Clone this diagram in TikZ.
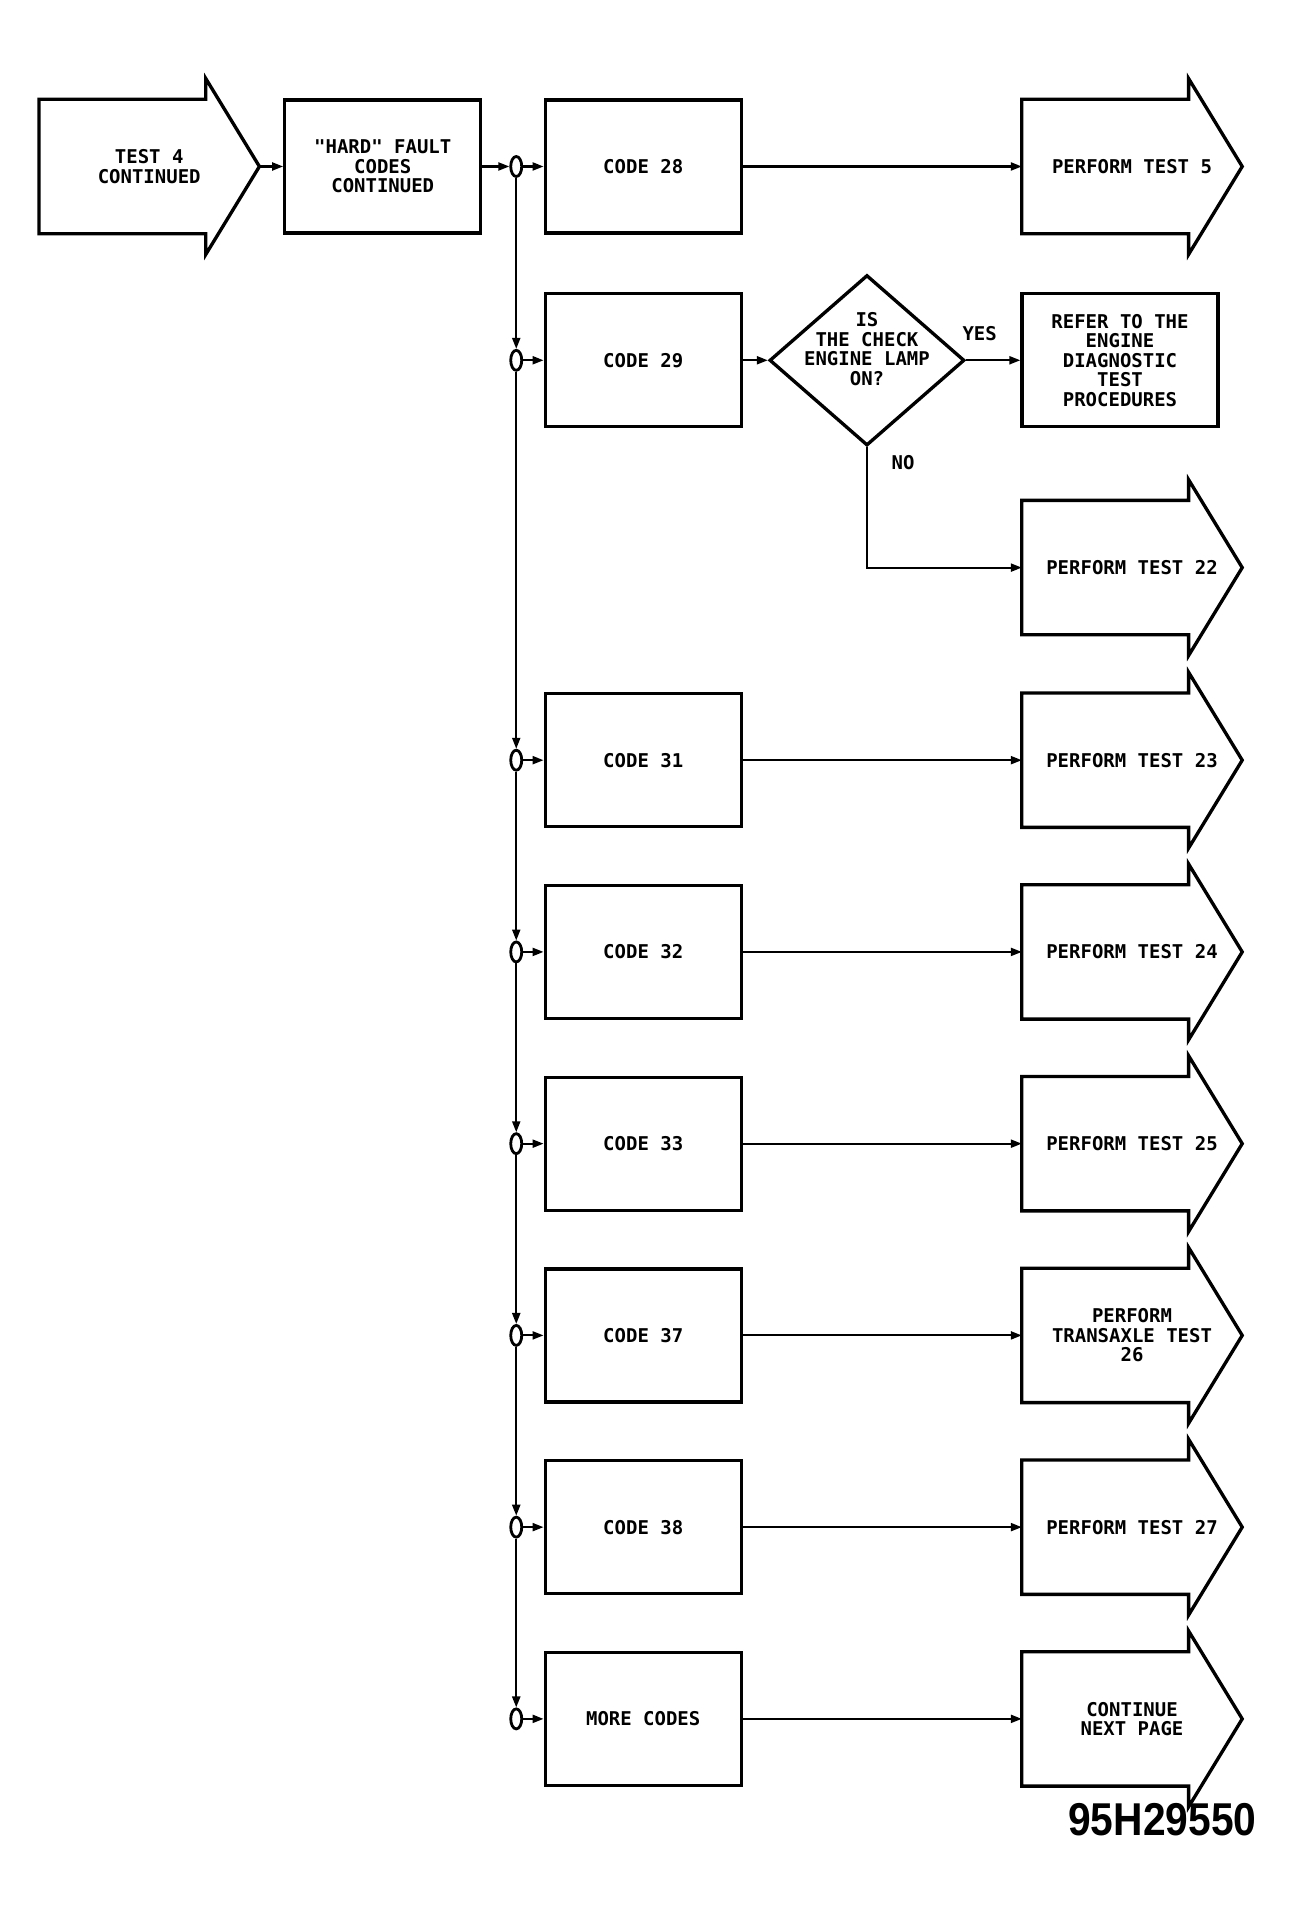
\documentclass[tikz,border=0pt]{standalone}
\usepackage{fontspec}
\newfontfamily\plotter{DejaVu Sans Mono}
\newfontfamily\tagfont{Liberation Sans}
\usetikzlibrary{arrows.meta,shapes.geometric,positioning}

\begin{document}
\begin{tikzpicture}[
    txt/.style={font=\plotter\bfseries\fontsize{5.4}{5.55}\selectfont,align=center},
    box/.style={txt,rectangle,line width=0.95pt,draw=black,minimum width=19.6mm,minimum height=13.3mm,inner sep=0pt},
    pointer/.style={txt,rectangle,minimum width=21.9mm,minimum height=13.3mm,inner sep=0pt},
    tap/.style={ellipse,thick,draw=black,minimum width=1.1mm,minimum height=2mm,inner sep=0pt},
    query/.style={diamond,line width=0.95pt,draw=black,minimum width=19.5mm,minimum height=17.05mm,inner sep=0pt},
    link/.style={semithick,-{Triangle[length=1.1mm,width=0.8mm]}}]

    \useasboundingbox (0,0) rectangle (129.1mm,-191mm);

    \matrix[row sep=5.54mm,column sep=2.44mm,inner sep=0pt,matrix anchor=north west] at (3.9mm,-9.76mm) {
        \node(t4)[pointer] {TEST 4\\CONTINUED}; &
        \node(hard)[box] {"HARD" FAULT\\CODES\\CONTINUED}; &[0.25mm]
        \node(o28)[tap] {}; &[-0.4mm]
        \node(c28)[box] {CODE 28}; &[0.12mm]
        &[3.05mm]
        \node(t5)[pointer] {PERFORM TEST 5}; \\[-1.6mm]
        & &
        \node(o29)[tap] {}; &
        \node(c29)[box] {CODE 29}; &
        \node(chk)[query,label={[txt,yshift=1.1mm]center:{IS\\THE CHECK\\ENGINE LAMP\\ON?}}] {}; &
        \node(ref)[box,xshift=-1.2mm] {REFER TO THE\\ENGINE\\DIAGNOSTIC\\TEST\\PROCEDURES}; \\[-0.08mm]
        & & & & &
        \node(t22)[pointer] {PERFORM TEST 22}; \\[0.25mm]
        & & \node(o31)[tap] {}; & \node(c31)[box] {CODE 31}; & &
        \node(t23)[pointer] {PERFORM TEST 23}; \\
        & & \node(o32)[tap] {}; & \node(c32)[box] {CODE 32}; & &
        \node(t24)[pointer] {PERFORM TEST 24}; \\
        & & \node(o33)[tap] {}; & \node(c33)[box] {CODE 33}; & &
        \node(t25)[pointer] {PERFORM TEST 25}; \\
        & & \node(o37)[tap] {}; & \node(c37)[box] {CODE 37}; & &
        \node(t26)[pointer] {PERFORM\\TRANSAXLE TEST\\26}; \\
        & & \node(o38)[tap] {}; & \node(c38)[box] {CODE 38}; & &
        \node(t27)[pointer] {PERFORM TEST 27}; \\
        & & \node(omore)[tap] {}; & \node(cmore)[box] {MORE CODES}; & &
        \node(nxt)[pointer] {CONTINUE\\NEXT PAGE}; \\
    };

    % block arrow outlines round the pointer nodes
    \foreach \n in {t4,t5,t22,t23,t24,t25,t26,t27,nxt}
        \draw[line width=0.95pt,line join=miter] (\n.north west) -- ([xshift=-5.36mm]\n.north east) -- ++(0,2.07mm)
            -- (\n.east) -- ([xshift=-5.36mm,yshift=-2.07mm]\n.south east) -- ++(0,2.07mm)
            -- (\n.south west) -- cycle;

    \draw[link] (t4) -- (hard);
    \draw[link] (hard) -- (o28);
    \draw[link] (o28) -- (c28);
    \draw[link] (c28) -- (t5);

    % code 29 and the lamp question
    \draw[link] (o28) -- (o29);
    \draw[link] (o29) -- (c29);
    \draw[link] (c29) -- (chk);
    \draw[link] (chk) -- node(yes)[txt,above=0.7mm,pos=0.25] {YES} (ref);
    \draw[link] (chk.south) node(no)[txt,below right=-0.5mm and 1.2mm] {NO} |- (t22);

    \draw[link] (o29) -- (o31);
    \draw[link] (o31) -- (c31);
    \draw[link] (c31) -- (t23);
    \draw[link] (o31) -- (o32);
    \draw[link] (o32) -- (c32);
    \draw[link] (c32) -- (t24);
    \draw[link] (o32) -- (o33);
    \draw[link] (o33) -- (c33);
    \draw[link] (c33) -- (t25);
    \draw[link] (o33) -- (o37);
    \draw[link] (o37) -- (c37);
    \draw[link] (c37) -- (t26);
    \draw[link] (o37) -- (o38);
    \draw[link] (o38) -- (c38);
    \draw[link] (c38) -- (t27);
    \draw[link] (o38) -- (omore);
    \draw[link] (omore) -- (cmore);
    \draw[link] (cmore) -- (nxt);

    \node(tag)[anchor=base east,inner sep=0pt,xscale=0.885,font=\tagfont\bfseries\fontsize{13.1}{13.1}\selectfont]
        at (125.7mm,-183.5mm) {95H29550};
\end{tikzpicture}
\end{document}
